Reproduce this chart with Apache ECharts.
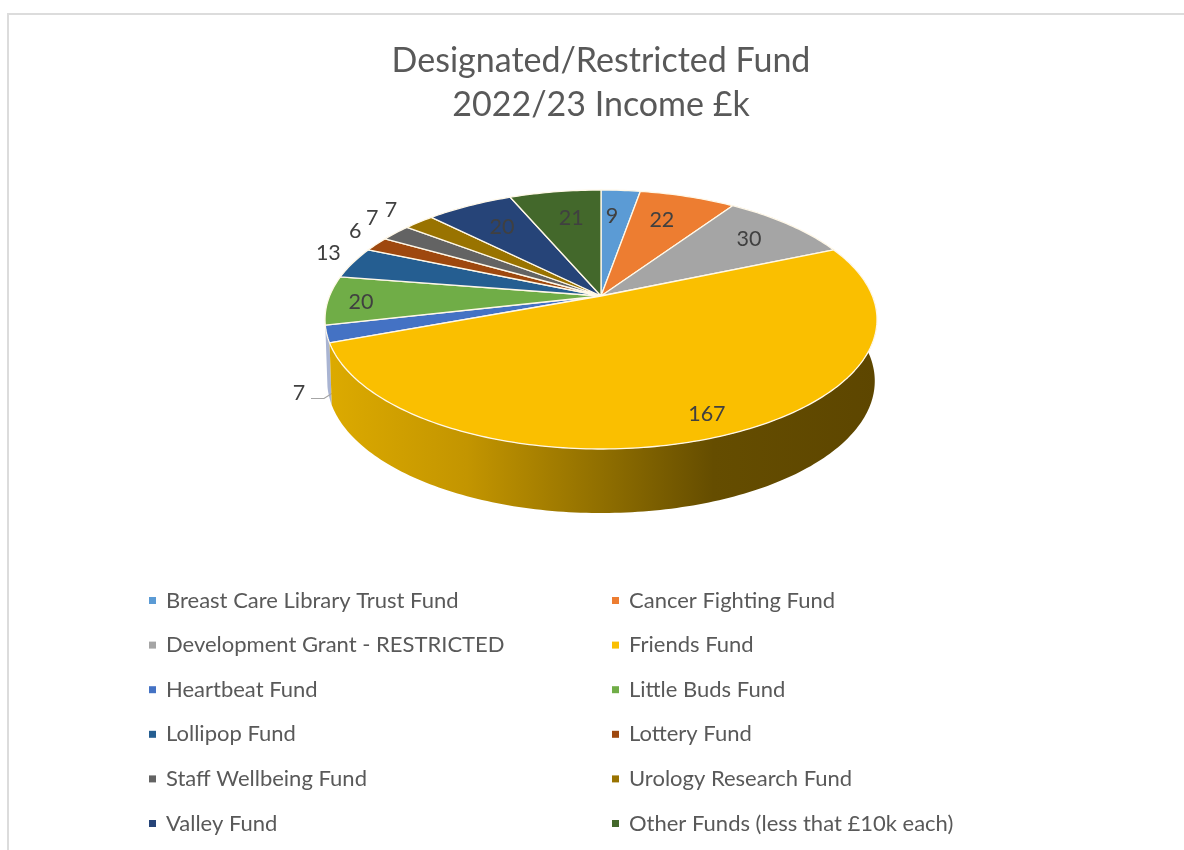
<!DOCTYPE html>
<html>
<head>
<meta charset="utf-8">
<title>Designated/Restricted Fund</title>
<script src="https://cdn.jsdelivr.net/npm/echarts@6/dist/echarts.min.js"></script>
<style>
html, body { margin: 0; padding: 0; background: #fff; }
#chart { width: 1184px; height: 850px; }
</style>
</head>
<body>
<div id="chart"></div>
<script>
var fundNames = ['Breast Care Library Trust Fund', 'Cancer Fighting Fund', 'Development Grant - RESTRICTED', 'Friends Fund', 'Heartbeat Fund', 'Little Buds Fund', 'Lollipop Fund', 'Lottery Fund', 'Staff Wellbeing Fund', 'Urology Research Fund', 'Valley Fund', 'Other Funds (less that £10k each)'];
var fundValues = [9, 22, 30, 167, 7, 20, 13, 6, 7, 7, 20, 21];
var fundColors = ['#5b9bd5', '#ed7d31', '#a5a5a5', '#fabf00', '#4472c4', '#70ad47', '#255e91', '#9e480e', '#636363', '#997300', '#264478', '#43682b'];

// where each data label sits: radius on the disc and turn off the slice middle (deg)
var labelRadius = [0.724, 0.727, 0.774, 0.871, 1.19, 0.878, 1.133, 1.153, 1.182, 1.182, 0.734, 0.713];
var labelTurn = [-1.3, -1.6, -0.2, -0.6, -18.3, -1.2, 2.8, 3.3, 2.8, 0.3, 0.4, 1.5];

// perspective of the tilted disc, fitted to the picture
var CX = 601, APEX_Y = 296, WIDE = 271.4, RISE = 71.5, TILT = -0.1815;
var DEPTH = 61, DEPTH_GROW = 0.05, BASE_SHRINK = 0.992;
var FONT = 'Lato, "Noto Sans", sans-serif';

var total = fundValues.reduce(function (a, b) { return a + b; }, 0);

function project(deg, r) {
    var t = deg * Math.PI / 180;
    var u = r * Math.sin(t), v = -r * Math.cos(t);
    var d = 1 + TILT * v;
    return [CX + WIDE * u / d, (RISE * v + APEX_Y) / d];
}

function projectBase(deg) {
    var p = project(deg, 1);
    var v = -Math.cos(deg * Math.PI / 180);
    return [CX + (p[0] - CX) * BASE_SHRINK, p[1] + DEPTH * (1 + DEPTH_GROW * v)];
}

function arcPoints(fn, from, to) {
    var pts = [];
    var n = Math.max(2, Math.ceil(Math.abs(to - from)));
    for (var i = 0; i <= n; i++) {
        pts.push(fn(from + (to - from) * i / n, 1));
    }
    return pts;
}

var wallGradient = {
    type: 'linear', x: 330, y: 0, x2: 878, y2: 0, global: true,
    colorStops: [
        { offset: 0, color: '#dcaa00' },
        { offset: 0.25, color: '#c39500' },
        { offset: 0.5, color: '#8f6e00' },
        { offset: 0.7, color: '#654d00' },
        { offset: 1, color: '#5d4600' }
    ]
};

function renderSlice(params, api) {
    var idx = params.seriesIndex;
    var value = api.value(0);
    var before = 0;
    for (var i = 0; i < idx; i++) before += fundValues[i];
    var from = before / total * 360;
    var to = (before + value) / total * 360;
    var children = [];

    // side wall, only the slices that reach the front of the disc show one
    if (to > 66 && to < 260) {
        var top = arcPoints(project, from, to);
        var base = arcPoints(projectBase, from, to).reverse();
        children.push({
            type: 'polygon',
            shape: { points: top.concat(base) },
            style: { fill: idx === 3 ? wallGradient : '#a9b4d2' }
        });
    }

    var face = [[CX, APEX_Y]].concat(arcPoints(project, from, to));
    children.push({
        type: 'polygon',
        shape: { points: face },
        style: { fill: fundColors[idx], stroke: '#fff8e8', lineWidth: 1.3, lineJoin: 'round' }
    });

    var mid = (from + to) / 2 + labelTurn[idx];
    var spot = project(mid, labelRadius[idx]);
    if (idx === 4) {
        children.push({
            type: 'polyline',
            shape: { points: [[spot[0] + 12, spot[1] + 5], [spot[0] + 25, spot[1] + 5], [spot[0] + 36, spot[1] - 2]] },
            style: { fill: null, stroke: '#a5a5a5', lineWidth: 1.2 }
        });
    }
    children.push({
        type: 'text',
        style: {
            x: spot[0], y: spot[1], text: String(value),
            fill: '#404040', font: '21.5px ' + FONT,
            align: 'center', verticalAlign: 'middle'
        },
        z2: 10
    });
    return { type: 'group', children: children };
}

var seriesList = [];
for (var s = 0; s < fundNames.length; s++) {
    seriesList.push({
        name: fundNames[s],
        type: 'custom',
        coordinateSystem: 'none',
        z: s === 3 ? 3 : 2,
        silent: true,
        itemStyle: { color: fundColors[s] },
        renderItem: renderSlice,
        data: [fundValues[s]]
    });
}

function legendColumn(left, start) {
    var names = fundNames.filter(function (n, i) { return i % 2 === start; });
    return {
        orient: 'vertical',
        left: left,
        top: 589.5,
        icon: 'rect',
        itemWidth: 7,
        itemHeight: 7,
        itemGap: 22.6,
        padding: 0,
        selectedMode: false,
        textStyle: { color: '#595959', fontFamily: FONT, fontSize: 22, lineHeight: 20, padding: [0, 0, 0, 5] },
        data: names
    };
}

var myChart = echarts.init(document.getElementById('chart'), null, { renderer: 'canvas' });
myChart.setOption({
    backgroundColor: '#fff',
    animation: false,
    title: {
        text: 'Designated/Restricted Fund\n2022/23 Income £k',
        left: 601,
        top: 39,
        padding: 0,
        textAlign: 'center',
        textStyle: { color: '#595959', fontFamily: FONT, fontSize: 34, fontWeight: 'normal', lineHeight: 44 }
    },
    legend: [legendColumn(149, 0), legendColumn(612, 1)],
    graphic: [{
        type: 'rect',
        silent: true,
        z: -1,
        shape: { x: 8, y: 14, width: 1400, height: 1000 },
        style: { fill: 'none', stroke: '#dcdcdc', lineWidth: 2 }
    }],
    series: seriesList
});
</script>
</body>
</html>
